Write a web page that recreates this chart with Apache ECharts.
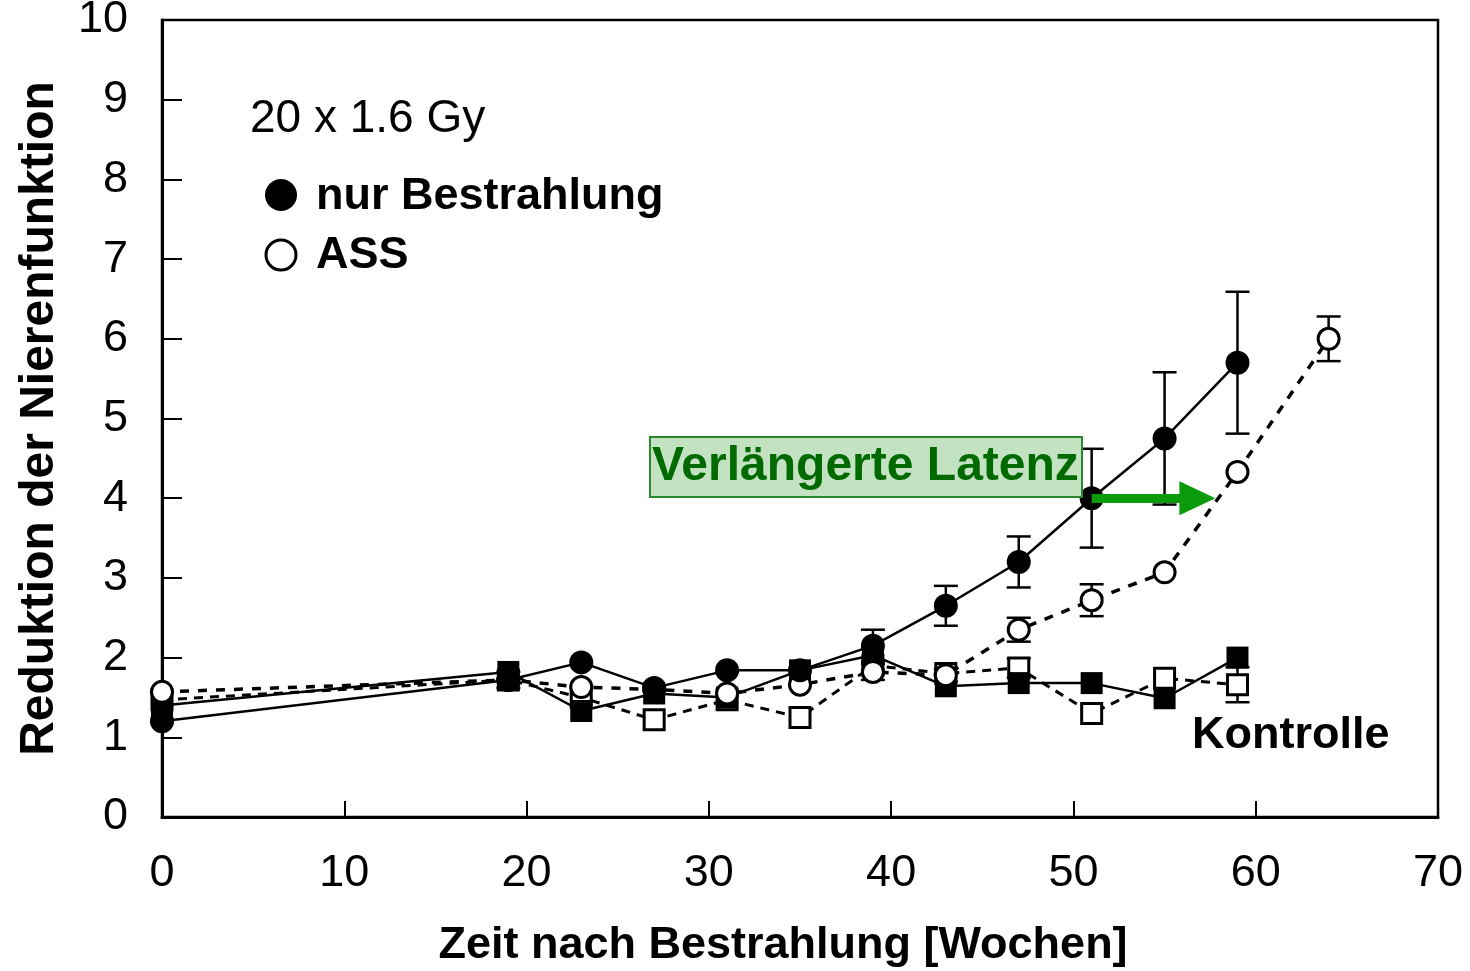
<!DOCTYPE html>
<html>
<head>
<meta charset="utf-8">
<script src="https://cdn.jsdelivr.net/npm/echarts@6/dist/echarts.min.js"></script>
<style>
html,body{margin:0;padding:0;background:#fff;}
#chart{width:1470px;height:971px;}
</style>
</head>
<body>
<div id="chart"></div>
<script>
// ---- data ----
const weeks = [0, 19, 23, 27, 31, 35, 39, 43, 47, 51, 55, 59];
const weeksAss = [0, 19, 23, 27, 31, 35, 39, 43, 47, 51, 55, 59, 64];
const irradiated = [1.2, 1.72, 1.94, 1.62, 1.84, 1.84, 2.15, 2.65, 3.2, 4.0, 4.75, 5.7];
const irradiatedErr = [0, 0.1, 0, 0, 0, 0, 0.2, 0.25, 0.32, 0.62, 0.83, 0.89];
const ass = [1.57, 1.72, 1.63, 1.6, 1.55, 1.66, 1.82, 1.78, 2.35, 2.72, 3.07, 4.33, 6.0];
const assErr = [0, 0, 0, 0, 0, 0, 0.1, 0.08, 0.15, 0.2, 0, 0, 0.28];
const control = [1.4, 1.82, 1.33, 1.55, 1.5, 1.84, 2.03, 1.64, 1.68, 1.68, 1.49, 2.0];
const controlAss = [1.47, 1.72, 1.5, 1.22, 1.47, 1.25, 1.9, 1.8, 1.87, 1.3, 1.74, 1.66];
const controlAssErr = [0, 0, 0, 0, 0, 0, 0, 0, 0.12, 0, 0, 0.22];
const xTicks = [0, 10, 20, 30, 40, 50, 60, 70];
const yTicks = [0, 1, 2, 3, 4, 5, 6, 7, 8, 9, 10];
const latencyArrow = [[51, 4.0], [56.8, 4.0]];

const FONT = '"Liberation Sans", Arial, sans-serif';
const pair = (xs, ys) => xs.map((x, i) => [x, ys[i]]);
const errData = (xs, ys, es) => xs.map((x, i) => [x, ys[i] - es[i], ys[i] + es[i]]).filter((d, i) => es[i] > 0);

function errRender(params, api) {
  const x = api.value(0);
  const lo = api.coord([x, api.value(1)]);
  const hi = api.coord([x, api.value(2)]);
  const cap = 12;
  const st = {stroke: '#000', lineWidth: 2.5};
  return {
    type: 'group',
    children: [
      {type: 'line', shape: {x1: lo[0], y1: lo[1], x2: hi[0], y2: hi[1]}, style: st},
      {type: 'line', shape: {x1: lo[0] - cap, y1: lo[1], x2: lo[0] + cap, y2: lo[1]}, style: st},
      {type: 'line', shape: {x1: hi[0] - cap, y1: hi[1], x2: hi[0] + cap, y2: hi[1]}, style: st}
    ]
  };
}

const chart = echarts.init(document.getElementById('chart'), null, {renderer: 'canvas'});
const option = {
  backgroundColor: '#fff',
  animation: false,
  grid: {left: 162, right: 32, top: 20, bottom: 154, show: true, borderColor: '#000', borderWidth: 2.5,
    containLabel: false, outerBoundsMode: 'none'},
  xAxis: {
    type: 'value', min: 0, max: 70, interval: 10,
    axisLine: {show: true, lineStyle: {color: '#000', width: 3}},
    axisTick: {show: true, inside: true, length: 16, lineStyle: {color: '#000', width: 2}},
    axisLabel: {fontFamily: FONT, fontSize: 45, color: '#000', margin: 34,
      formatter: v => xTicks.includes(v) ? String(v) : ''},
    splitLine: {show: false},
    name: 'Zeit nach Bestrahlung [Wochen]', nameLocation: 'middle', nameGap: 106,
    nameTextStyle: {fontFamily: FONT, fontSize: 45, fontWeight: 'bold', color: '#000', padding: [0, 34, 0, 0]}
  },
  yAxis: {
    type: 'value', min: 0, max: 10, interval: 1,
    axisLine: {show: true, lineStyle: {color: '#000', width: 3}},
    axisTick: {show: true, inside: true, length: 20, lineStyle: {color: '#000', width: 2}},
    axisLabel: {fontFamily: FONT, fontSize: 45, color: '#000', margin: 34,
      formatter: v => yTicks.includes(v) ? String(v) : ''},
    splitLine: {show: false},
    name: 'Reduktion der Nierenfunktion', nameLocation: 'middle', nameGap: 98,
    nameTextStyle: {fontFamily: FONT, fontSize: 48, fontWeight: 'bold', color: '#000'}
  },
  series: [
    {type: 'line', name: 'Kontrolle ASS', data: pair(weeks, controlAss), symbol: 'rect', symbolSize: 20,
      lineStyle: {color: '#000', width: 3, type: [9, 7]},
      itemStyle: {color: '#fff', borderColor: '#000', borderWidth: 3}, z: 2},
    {type: 'line', name: 'Kontrolle', data: pair(weeks, control), symbol: 'rect', symbolSize: 22,
      lineStyle: {color: '#000', width: 2.5},
      itemStyle: {color: '#000', borderColor: '#000', borderWidth: 0}, z: 3},
    {type: 'line', name: 'ASS', data: pair(weeksAss, ass), symbol: 'circle', symbolSize: 21,
      lineStyle: {color: '#000', width: 3.5, type: [9, 9]},
      itemStyle: {color: '#fff', borderColor: '#000', borderWidth: 3}, z: 4},
    {type: 'line', name: 'nur Bestrahlung', data: pair(weeks, irradiated), symbol: 'circle', symbolSize: 24,
      lineStyle: {color: '#000', width: 2.5},
      itemStyle: {color: '#000'}, z: 5,
      markLine: {
        silent: true, symbol: ['none', 'triangle'], symbolSize: [34, 36],
        label: {show: false},
        lineStyle: {color: '#0a9a0a', width: 9, type: 'solid'},
        data: [[{coord: latencyArrow[0]}, {coord: latencyArrow[1]}]],
        z: 10
      }},
    {type: 'custom', renderItem: errRender, data: errData(weeks, irradiated, irradiatedErr), encode: {x: 0, y: [1, 2]}, z: 1},
    {type: 'custom', renderItem: errRender, data: errData(weeksAss, ass, assErr), encode: {x: 0, y: [1, 2]}, z: 1},
    {type: 'custom', renderItem: errRender, data: errData(weeks, controlAss, controlAssErr), encode: {x: 0, y: [1, 2]}, z: 1}
  ],
  graphic: [
    {type: 'text', left: 250, top: 96, style: {text: '20 x 1.6 Gy', font: '46px ' + FONT, fill: '#000'}},
    {type: 'circle', shape: {cx: 281, cy: 195, r: 16}, style: {fill: '#000'}},
    {type: 'text', left: 316, top: 174, style: {text: 'nur Bestrahlung', font: 'bold 45px ' + FONT, fill: '#000'}},
    {type: 'circle', shape: {cx: 281, cy: 255, r: 15}, style: {fill: '#fff', stroke: '#000', lineWidth: 3}},
    {type: 'text', left: 316, top: 233, style: {text: 'ASS', font: 'bold 45px ' + FONT, fill: '#000'}},
    {type: 'rect', shape: {x: 650, y: 437, width: 432, height: 60}, style: {fill: '#c2e2c2', stroke: '#2a8a2a', lineWidth: 2}, z: 20},
    {type: 'text', left: 652, top: 443, style: {text: 'Verlängerte Latenz', font: 'bold 48px ' + FONT, fill: '#006a00'}, z: 21},
    {type: 'text', left: 1192, top: 713, style: {text: 'Kontrolle', font: 'bold 45px ' + FONT, fill: '#000'}, z: 21}
  ]
};
chart.setOption(option);
</script>
</body>
</html>
